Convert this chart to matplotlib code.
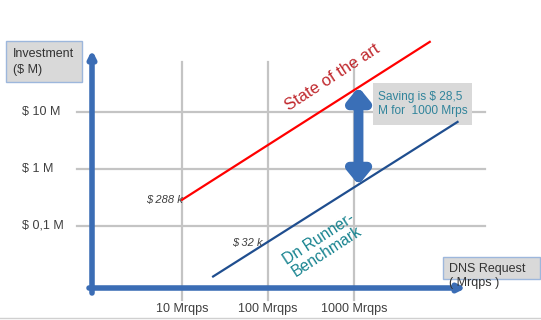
import matplotlib
matplotlib.use('Agg')
import matplotlib.pyplot as plt
from matplotlib.patches import Rectangle

plt.rcParams['font.family'] = ['Liberation Sans', 'DejaVu Sans']

# data (Mrqps vs $ M, log-log)
x_ticks = [10, 100, 1000]
x_labels = ['10 Mrqps', '100 Mrqps', '1000 Mrqps']
y_ticks = [10, 1, 0.1]
y_labels = ['$ 10 M', '$ 1 M', '$ 0,1 M']

sota_x = [10, 7600]
sota_y = [0.288, 170]
dnr_x = [23, 16000]
dnr_y = [0.013, 6.7]

saving_x = 1130
saving_top = 27.4
saving_bot = 0.524

# pixel -> data helpers (figure is 541x320 px)
def dx(px):
    return 10 ** (1 + (px - 182) / 86.0)

def dy(py):
    return 10 ** ((169 - py) / 57.0)

fig = plt.figure(figsize=(5.41, 3.20), dpi=100)
ax = fig.add_axes([0, 0, 1, 1])
ax.set_xscale('log'); ax.set_yscale('log')
ax.set_xlim(dx(0), dx(541))
ax.set_ylim(dy(320), dy(0))
ax.axis('off')

grid_c = '#c4c4c4'
for xv in x_ticks:
    ax.plot([xv, xv], [dy(300), dy(62)], color=grid_c, lw=1.6, zorder=1)
for yv in y_ticks:
    ax.plot([dx(77), dx(485)], [yv, yv], color=grid_c, lw=1.6, zorder=1)

# axes arrows
axis_c = '#3b6db5'
ax.annotate('', xy=(dx(92), dy(50)), xytext=(dx(92), dy(293)),
            arrowprops=dict(arrowstyle='-|>', lw=4, color=axis_c, mutation_scale=10, shrinkA=0, shrinkB=0), zorder=3)
ax.annotate('', xy=(dx(466), dy(288)), xytext=(dx(89), dy(288)),
            arrowprops=dict(arrowstyle='-|>', lw=4, color=axis_c, mutation_scale=10, shrinkA=0, shrinkB=0), zorder=3)

# lines
ax.plot(sota_x, sota_y, color='#ff0000', lw=1.6, zorder=4)
ax.plot(dnr_x, dnr_y, color='#1f4e8f', lw=1.6, zorder=4)

# saving arrow
ax.annotate('', xy=(saving_x, saving_top), xytext=(saving_x, saving_bot),
            arrowprops=dict(arrowstyle='<|-|>,head_length=0.55,head_width=0.45', lw=7, color='#3a6fb7',
                            mutation_scale=14, shrinkA=0, shrinkB=0), zorder=5)

# tick labels
lab_c = '#404040'
for yv, t in zip(y_ticks, y_labels):
    ax.text(dx(22), yv, t, ha='left', va='center', fontsize=9, color=lab_c)
for xv, t in zip(x_ticks, x_labels):
    ax.text(xv, dy(309), t, ha='center', va='center', fontsize=9, color=lab_c)

# axis title boxes
ax.add_patch(Rectangle((dx(6), dy(82)), dx(82) - dx(6), dy(41) - dy(82), facecolor='#d9d9d9',
                       edgecolor='#9db7dc', lw=1, zorder=2))
ax.text(dx(13), dy(62), 'Investment\n($ M)', ha='left', va='center', fontsize=9, color='#333333',
        linespacing=1.4, zorder=3)
ax.add_patch(Rectangle((dx(443), dy(279)), dx(540) - dx(443), dy(257) - dy(279), facecolor='#d9d9d9',
                       edgecolor='#9db7dc', lw=1, zorder=2))
ax.text(dx(449), dy(276), 'DNS Request\n( Mrqps )', ha='left', va='center', fontsize=9, color='#333333',
        linespacing=1.2, zorder=6)

# saving box
ax.add_patch(Rectangle((dx(373), dy(125)), dx(472) - dx(373), dy(83) - dy(125), facecolor='#d9d9d9',
                       edgecolor='none', zorder=2))
ax.text(dx(378), dy(104), 'Saving is $ 28,5\nM for  1000 Mrps', ha='left', va='center', fontsize=8.6,
        color='#31849b', linespacing=1.2, zorder=3)

# value labels
ax.text(dx(183), sota_y[0], '$ 288 k', ha='right', va='center', fontsize=8, style='italic', color='#404040', zorder=6)
ax.text(dx(263), dy(243), '$ 32 k', ha='right', va='center', fontsize=8, style='italic', color='#404040', zorder=6)

# line titles
ax.text(dx(332), dy(77), 'State of the art', rotation=33, ha='center', va='center', fontsize=12,
        color='#c0282d', rotation_mode='anchor', zorder=6)
ax.text(dx(323), dy(245), 'Dn Runner-\nBenchmark', rotation=33, ha='center', va='center', fontsize=11.3,
        color='#17838f', rotation_mode='anchor', linespacing=1.0, zorder=6)

ax.plot([dx(0), dx(541)], [dy(318), dy(318)], color='#d0d0d0', lw=1, zorder=1)

fig.savefig('out.png', dpi=100)
